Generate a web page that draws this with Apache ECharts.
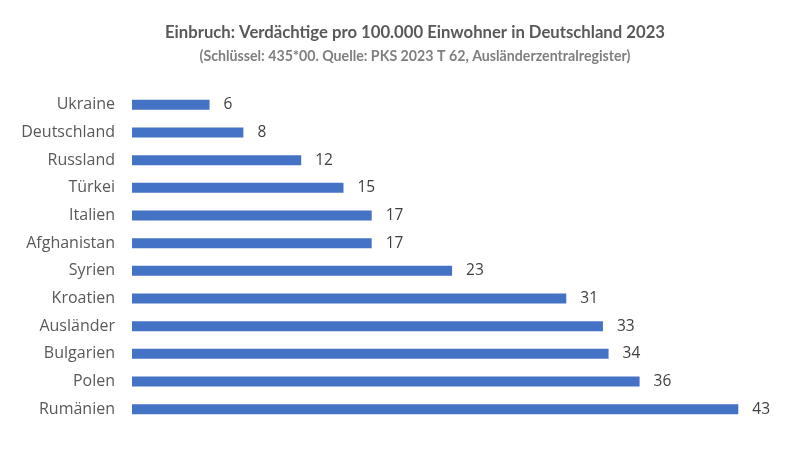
<!DOCTYPE html>
<html>
<head>
<meta charset="utf-8">
<script src="https://cdn.jsdelivr.net/npm/echarts@6/dist/echarts.min.js"></script>
<style>
  html, body { margin: 0; padding: 0; background: #fff; }
  #main { width: 800px; height: 450px; }
</style>
</head>
<body>
<div id="main"></div>
<script>
// Kategorien von oben nach unten, wie im Bild
const countries = ['Ukraine', 'Deutschland', 'Russland', 'Türkei', 'Italien', 'Afghanistan',
  'Syrien', 'Kroatien', 'Ausländer', 'Bulgarien', 'Polen', 'Rumänien'];
// Verdächtige pro 100.000 Einwohner (aus Balkenlänge geschätzt, Beschriftung gerundet)
const suspects = [5.5, 7.9, 12, 15, 17, 17, 22.7, 30.8, 33.4, 33.8, 36, 43];

const titleText = 'Einbruch: Verdächtige pro 100.000 Einwohner in Deutschland 2023';
const subText = '(Schlüssel: 435*00. Quelle: PKS 2023 T 62, Ausländerzentralregister)';

const chart = echarts.init(document.getElementById('main'));

chart.setOption({
  backgroundColor: '#ffffff',
  textStyle: { fontFamily: '"Open Sans", sans-serif' },
  title: [
    {
      text: titleText,
      left: 410,
      top: 19,
      textAlign: 'center',
      textStyle: { fontSize: 16.7, fontWeight: 'bold', color: '#595959', fontFamily: 'Lato' }
    },
    {
      text: subText,
      left: 410,
      top: 44,
      textAlign: 'center',
      textStyle: { fontSize: 14.2, fontWeight: 'bold', color: '#7f7f7f', fontFamily: 'Lato' }
    }
  ],
  grid: { left: 132, top: 91, width: 634.5, height: 332 },
  xAxis: {
    type: 'value',
    min: 0,
    max: 45,
    show: false
  },
  yAxis: {
    type: 'category',
    data: countries,
    inverse: true,
    axisLine: { show: false },
    axisTick: { show: false },
    axisLabel: { margin: 17, fontSize: 16, color: '#595959', fontFamily: 'Open Sans' }
  },
  series: [{
    type: 'bar',
    data: suspects,
    barWidth: 10,
    itemStyle: { color: '#4472C4' },
    label: {
      show: true,
      position: 'right',
      distance: 14,
      fontSize: 15.5,
      color: '#404040',
      fontFamily: 'Open Sans',
      formatter: p => Math.round(p.value)
    },
    animation: false
  }]
});
</script>
</body>
</html>
